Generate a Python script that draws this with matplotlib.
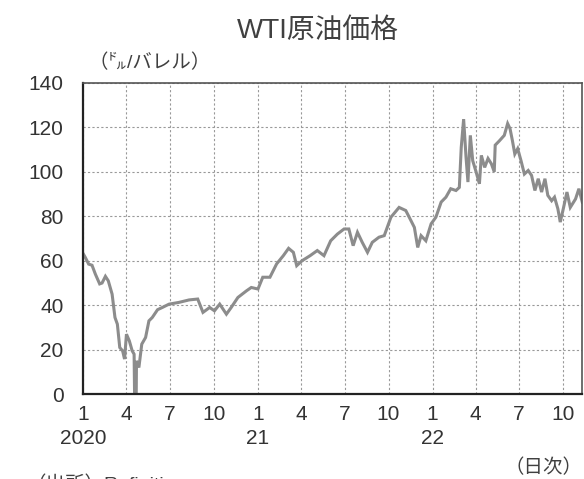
import pandas as pd
import matplotlib.pyplot as plt

plt.rcParams['font.family'] = ['Liberation Sans', 'Noto Sans CJK JP', 'DejaVu Sans']

# WTI 価格 (ドル/バレル), 目視で読み取り
dates = [
    '2020-01-02', '2020-01-06', '2020-01-13', '2020-01-20', '2020-01-27', '2020-02-05',
    '2020-02-10', '2020-02-17', '2020-02-23', '2020-03-02', '2020-03-08', '2020-03-13',
    '2020-03-18', '2020-03-24', '2020-03-28', '2020-04-01', '2020-04-07', '2020-04-13',
    '2020-04-17', '2020-04-20', '2020-04-22', '2020-04-27', '2020-05-03', '2020-05-11',
    '2020-05-18', '2020-05-25', '2020-06-05', '2020-06-15', '2020-06-29', '2020-07-20',
    '2020-08-10', '2020-08-28', '2020-09-08', '2020-09-22', '2020-10-02', '2020-10-13',
    '2020-10-27', '2020-11-06', '2020-11-20', '2020-12-08', '2020-12-18', '2021-01-01',
    '2021-01-11', '2021-01-26', '2021-02-09', '2021-02-23', '2021-03-06', '2021-03-16',
    '2021-03-23', '2021-04-03', '2021-04-20', '2021-05-05', '2021-05-19', '2021-06-02',
    '2021-06-16', '2021-06-30', '2021-07-10', '2021-07-19', '2021-07-28', '2021-08-07',
    '2021-08-18', '2021-08-28', '2021-09-11', '2021-09-22', '2021-10-06', '2021-10-23',
    '2021-11-06', '2021-11-17', '2021-11-24', '2021-12-01', '2021-12-08', '2021-12-18',
    '2021-12-29', '2022-01-08', '2022-01-19', '2022-01-29', '2022-02-08', '2022-02-19',
    '2022-02-26', '2022-03-02', '2022-03-07', '2022-03-12', '2022-03-16', '2022-03-21',
    '2022-03-26', '2022-04-02', '2022-04-09', '2022-04-13', '2022-04-20', '2022-04-27',
    '2022-05-04', '2022-05-10', '2022-05-12', '2022-05-21', '2022-05-31', '2022-06-07',
    '2022-06-12', '2022-06-17', '2022-06-22', '2022-06-28', '2022-07-05', '2022-07-12',
    '2022-07-20', '2022-07-27', '2022-08-03', '2022-08-10', '2022-08-17', '2022-08-24',
    '2022-08-30', '2022-09-07', '2022-09-13', '2022-09-20', '2022-09-25', '2022-10-02',
    '2022-10-09', '2022-10-16', '2022-10-27', '2022-11-03', '2022-11-10',
]
prices = [
    63.0, 61.5, 58.5, 58.0, 54.0, 49.6,
    50.0, 53.0, 51.0, 45.0, 34.5, 31.5,
    21.0, 19.5, 15.8, 27.0, 24.0, 19.5,
    18.0, -37.6, 15.0, 12.0, 22.5, 25.5,
    33.0, 34.5, 38.0, 39.0, 40.5, 41.3,
    42.4, 42.8, 36.8, 39.0, 37.5, 40.5,
    36.0, 39.0, 43.5, 46.5, 48.0, 47.3,
    52.6, 52.6, 58.6, 62.3, 65.6, 63.8,
    57.8, 60.0, 62.3, 64.6, 62.3, 69.0,
    72.0, 74.3, 74.3, 66.8, 72.8, 68.3,
    63.8, 68.3, 70.6, 71.3, 79.6, 84.0,
    82.6, 78.0, 75.0, 66.0, 71.3, 69.0,
    76.6, 79.6, 86.4, 88.6, 92.4, 91.6,
    93.0, 111.0, 123.7, 106.6, 95.4, 116.4,
    105.0, 100.0, 94.6, 107.4, 102.0, 106.0,
    103.6, 100.0, 112.0, 114.0, 116.4, 121.7,
    119.4, 114.0, 108.0, 110.4, 105.0, 99.0,
    100.6, 98.4, 91.6, 96.9, 90.9, 96.9,
    89.4, 87.0, 88.6, 83.4, 77.4, 84.0,
    90.9, 84.0, 87.8, 92.4, 86.4,
]
x_ticks = ['2020-01-01', '2020-04-01', '2020-07-01', '2020-10-01',
           '2021-01-01', '2021-04-01', '2021-07-01', '2021-10-01',
           '2022-01-01', '2022-04-01', '2022-07-01', '2022-10-01']
x_labels = ['1\n2020', '4', '7', '10', '1\n21', '4', '7', '10', '1\n22', '4', '7', '10']

d = pd.to_datetime(dates)

fig = plt.figure(figsize=(5.84, 4.79), dpi=100)
ax = fig.add_axes([0.142, 0.177, 0.855, 0.650])

ax.plot(d, prices, color='#8c8c8c', lw=2.2, solid_joinstyle='miter')

ax.set_ylim(0, 140)
ax.set_yticks(range(0, 141, 20))
ax.set_xlim(pd.Timestamp('2020-01-01'), pd.Timestamp('2022-11-10'))
ax.set_xticks(pd.to_datetime(x_ticks))
ax.set_xticklabels(x_labels)
ax.tick_params(length=0, labelsize=15, labelcolor='#333333')
ax.tick_params(axis='x', pad=8)
ax.tick_params(axis='y', pad=14)
for t in ax.get_xticklabels():
    t.set_linespacing(1.3)
    t.set_verticalalignment('top')

ax.grid(True, color='#999999', ls=(0, (2, 2)), lw=0.8)
for s in ['left', 'bottom']:
    ax.spines[s].set_linewidth(1.6)
    ax.spines[s].set_color('#222222')
for s in ['top', 'right']:
    ax.spines[s].set_linewidth(1.2)
    ax.spines[s].set_color('#555555')

fig.text(0.545, 0.935, 'WTI原油価格', ha='center', va='center', fontsize=20, color='#404040')
fig.text(0.152, 0.869, '（㌦/バレル）', ha='left', va='center', fontsize=14, color='#404040')
fig.text(0.997, 0.023, '（日次）', ha='right', va='center', fontsize=14, color='#404040')
fig.text(0.045, -0.012, '（出所）Refinitiv', ha='left', va='center', fontsize=14, color='#404040')

fig.savefig('out.png', dpi=100)
